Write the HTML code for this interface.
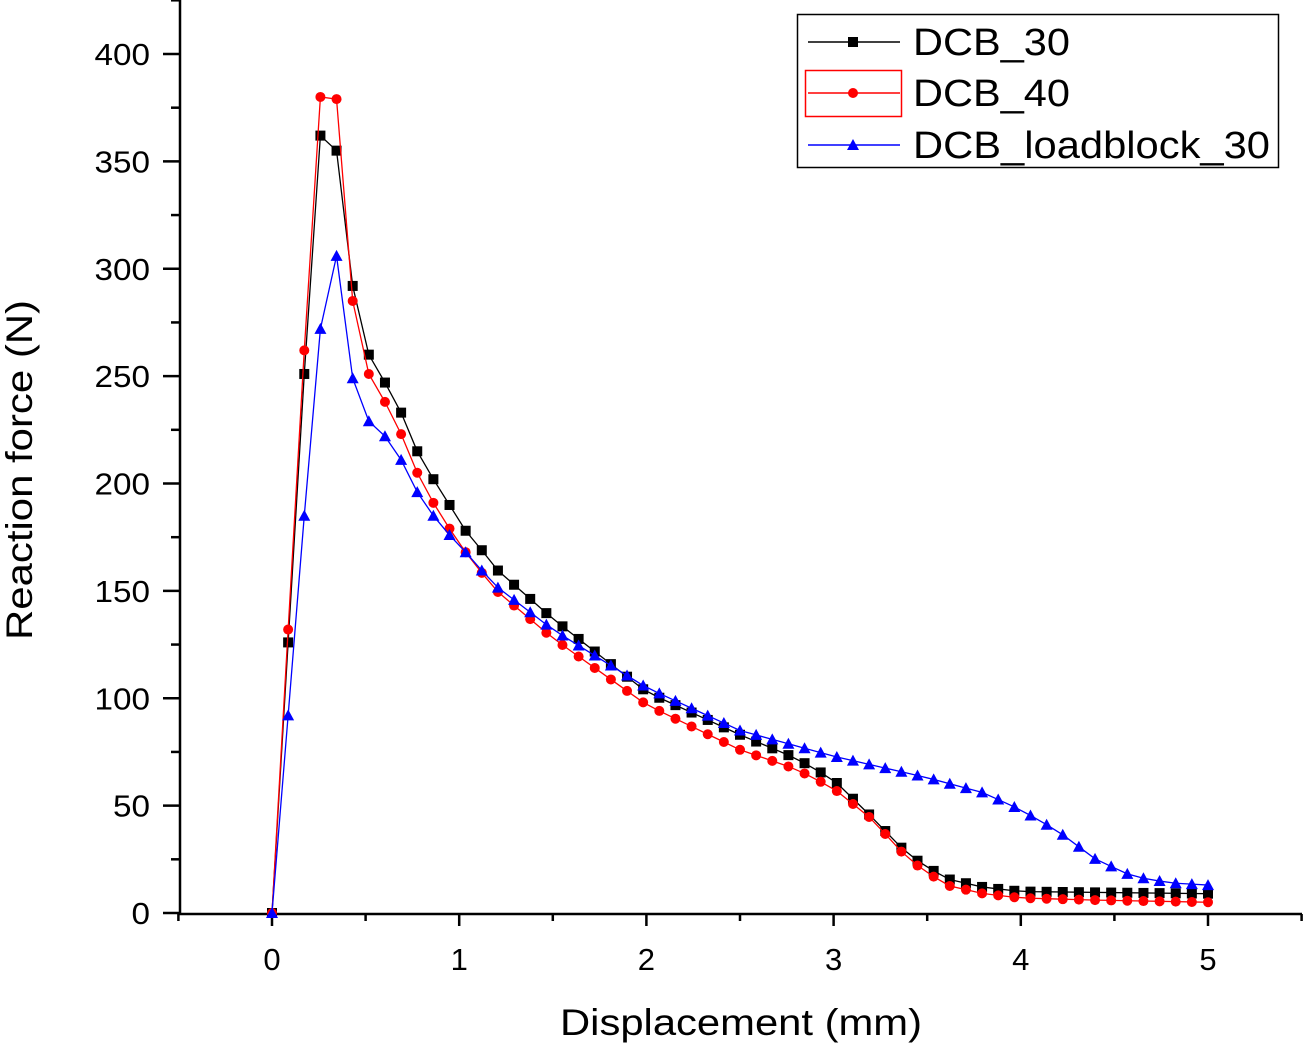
<!DOCTYPE html>
<html><head><meta charset="utf-8"><style>
body{margin:0;background:#fff;}
svg{display:block;font-family:"Liberation Sans",Arial,sans-serif;}
</style></head><body>
<svg id="s" width="1304" height="1044" viewBox="0 0 1304 1044" xmlns="http://www.w3.org/2000/svg">
<rect width="1304" height="1044" fill="#fff"/>
<g id="axes" stroke="#000" stroke-width="2.5" fill="none">
<line x1="180" y1="0" x2="180" y2="914"/>
<line x1="179" y1="914" x2="1302" y2="914"/>
</g>
<g id="ticks" stroke="#000" stroke-width="2.5"></g>
<g id="labels" font-size="31" fill="#000"></g>
<text x="560" y="1035" font-size="37" textLength="362" lengthAdjust="spacingAndGlyphs">Displacement (mm)</text>
<text transform="translate(32,640) rotate(-90)" font-size="37" textLength="340" lengthAdjust="spacingAndGlyphs">Reaction force (N)</text>
<g id="series"></g>
<g id="legend">
<rect x="797.5" y="14.5" width="481" height="153" fill="#fff" stroke="#000" stroke-width="1.5"/>
<line x1="808" y1="42" x2="900" y2="42" stroke="#000" stroke-width="1.5"/>
<rect x="848" y="37" width="10" height="10" fill="#000"/>
<text x="913" y="55" font-size="38" textLength="157" lengthAdjust="spacingAndGlyphs">DCB_30</text>
<rect x="805.5" y="70.5" width="96" height="46" fill="none" stroke="#f00" stroke-width="1.5"/>
<line x1="808" y1="93" x2="900" y2="93" stroke="#f00" stroke-width="1.5"/>
<circle cx="853" cy="93" r="5" fill="#f00"/>
<text x="913" y="106" font-size="38" textLength="157" lengthAdjust="spacingAndGlyphs">DCB_40</text>
<line x1="808" y1="145" x2="900" y2="145" stroke="#00f" stroke-width="1.5"/>
<polygon points="853,139 859,150 847,150" fill="#00f"/>
<text x="913" y="158" font-size="38" textLength="357" lengthAdjust="spacingAndGlyphs">DCB_loadblock_30</text>
</g>
</svg>
<script>
var NS="http://www.w3.org/2000/svg";
function X(v){return 272+v*187.2;}
function Y(v){return 913-v*2.1475;}
function el(p,t,a){var e=document.createElementNS(NS,t);for(var k in a)e.setAttribute(k,a[k]);p.appendChild(e);return e;}
var tk=document.getElementById('ticks'),lb=document.getElementById('labels');
for(var v=0;v<=425;v+=25){var y=Y(v);var maj=v%50==0;el(tk,'line',{x1:maj?163:171,y1:y,x2:180,y2:y});
 if(maj){var s=String(v);var t=el(lb,'text',{x:150-s.length*18.5,y:y+11,textLength:s.length*18.5,lengthAdjust:'spacingAndGlyphs'});t.textContent=s;}}
for(var v=-0.5;v<=5.51;v+=0.5){var x=X(v);var maj=Math.abs(v-Math.round(v))<1e-6;el(tk,'line',{x1:x,y1:914,x2:x,y2:maj?926:921});
 if(maj){var t=el(lb,'text',{x:x,y:970,'text-anchor':'middle'});t.textContent=Math.round(v);}}
function interp(a,x){for(var i=0;i<a.length-1;i++){if(x<=a[i+1][0]){var t=(x-a[i][0])/(a[i+1][0]-a[i][0]);return a[i][1]+t*(a[i+1][1]-a[i][1]);}}return a[a.length-1][1];}
var step=5/58;
var head={
 b:[0,126,251,362,355,292,260,247,233,215,202,190,178],
 r:[0,132,262,380,379,285,251,238,223,205,191,179,168],
 u:[0,92,185,272,306,249,229,222,211,196,185,176,168]};
var tail={
 b:[[1.03,178],[1.12,169],[1.2,160],[1.5,137],[2,103],[2.5,83],[2.8,72],[3,62],[3.2,45],[3.4,27],[3.6,16],[3.8,12],[4,10],[5,9]],
 r:[[1.03,168],[1.2,150],[1.5,128],[2,97],[2.5,76],[2.8,67],[3,58],[3.2,44],[3.4,25],[3.6,13],[3.8,9],[4,7],[4.4,6],[5,5]],
 u:[[1.03,168],[1.2,152],[1.5,132],[2,105],[2.5,85],[3,73],[3.5,63],[3.8,56],[4,48],[4.2,38],[4.4,25],[4.6,17],[4.8,14],[5,13]]};
var col={b:"#000",r:"#f00",u:"#00f"};
var sg=document.getElementById('series');
['b','r','u'].forEach(function(k){
 var pts=[];for(var i=0;i<=58;i++){var x=i*step;var v=i<head[k].length?head[k][i]:interp(tail[k],x);pts.push([X(x),Y(v)]);}
 el(sg,'polyline',{points:pts.map(function(p){return p.join(',')}).join(' '),fill:'none',stroke:col[k],'stroke-width':1.3});
 pts.forEach(function(p){
  if(k=='b')el(sg,'rect',{x:p[0]-5,y:p[1]-5,width:10,height:10,fill:'#000'});
  else if(k=='r')el(sg,'circle',{cx:p[0],cy:p[1],r:5,fill:'#f00'});
  else el(sg,'polygon',{points:(p[0])+','+(p[1]-6)+' '+(p[0]+6)+','+(p[1]+5)+' '+(p[0]-6)+','+(p[1]+5),fill:'#00f'});
 });
});
</script>
</body></html>
